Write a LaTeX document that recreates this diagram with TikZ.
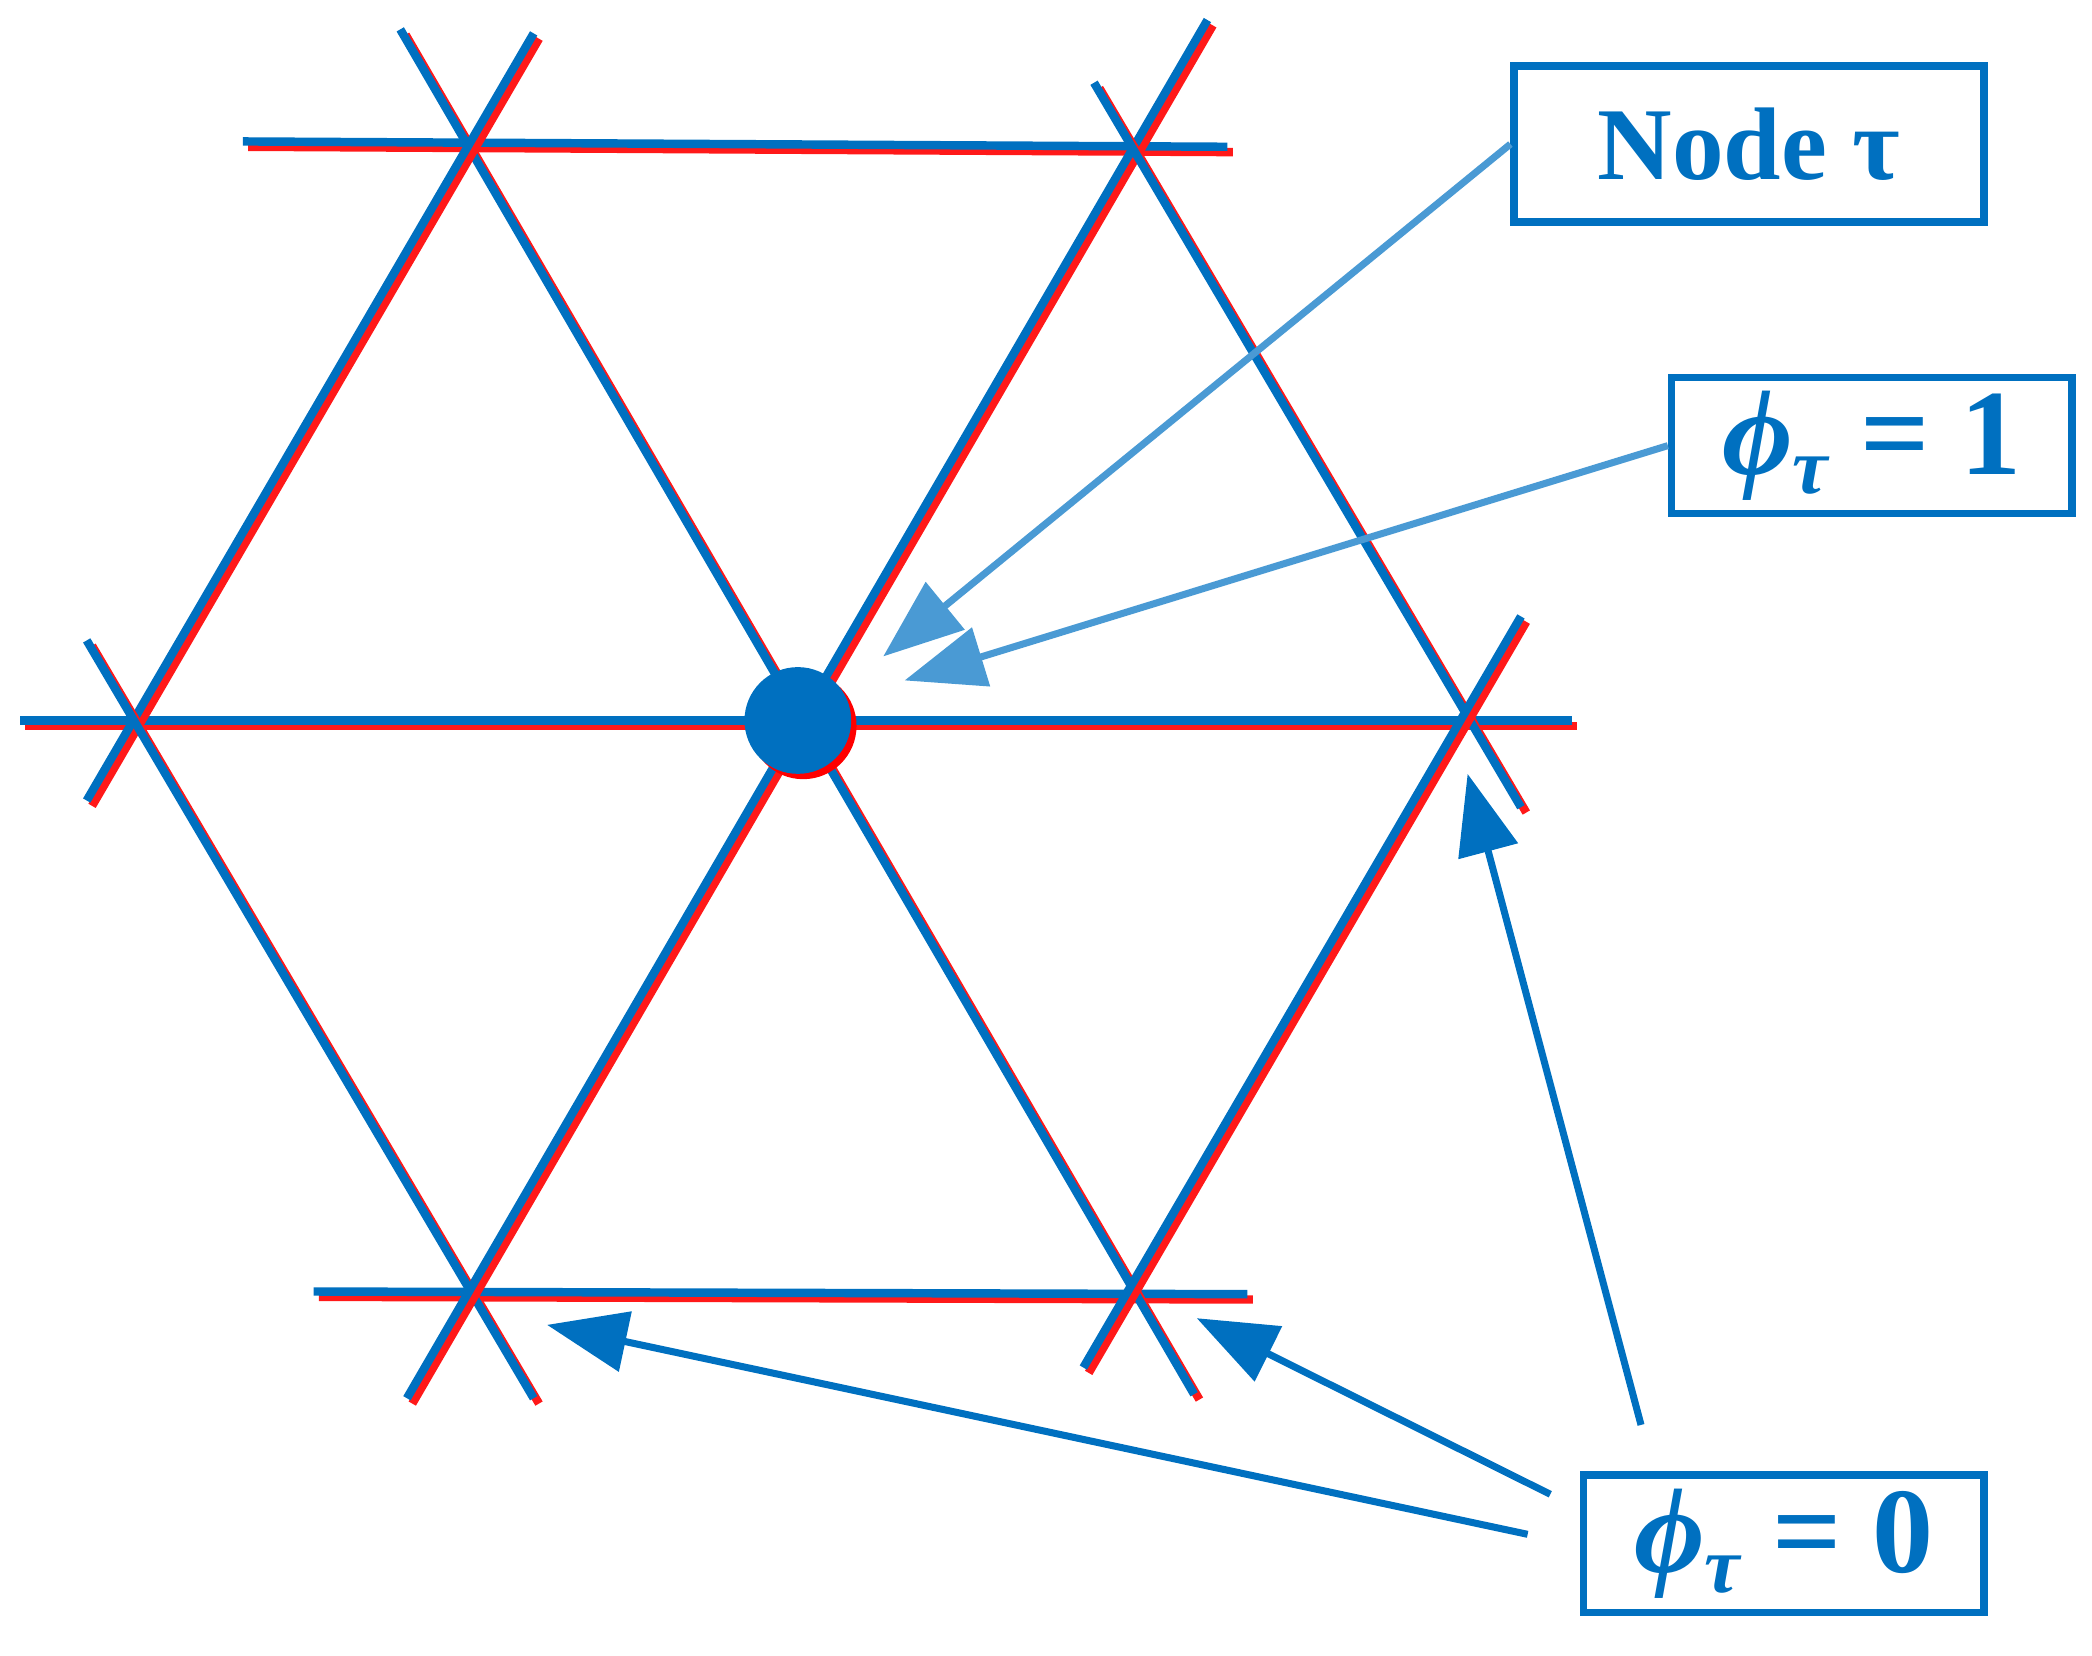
\documentclass[tikz,border=0pt]{standalone}
\usepackage{fontspec}
\setmainfont{Liberation Serif}
\usetikzlibrary{arrows.meta}
\definecolor{db}{RGB}{0,112,192}
\definecolor{lb}{RGB}{74,154,212}
\begin{document}
\begin{tikzpicture}[x=0.01cm,y=-0.01cm,
  bl/.style={draw=db,line width=1.8pt},
  rd/.style={draw=red!90!white,line width=1.8pt},
  box/.style={draw=db,line width=1.6pt,text=db,font=\fontsize{22}{26}\selectfont\bfseries,inner sep=0pt},
  arl/.style={draw=lb,line width=1.5pt,-{Triangle[length=0.6cm,width=0.45cm]}},
  ard/.style={draw=db,line width=1.5pt,-{Triangle[length=0.6cm,width=0.45cm]}}]
\useasboundingbox (0,0) rectangle (1568,1241);
\foreach \a/\b in {{182,106}/{920,110},{15,540}/{1178,540},{235,968}/{935,970},
  {300,22}/{895,1045},{400,25}/{65,600},{65,480}/{400,1048},{305,1048}/{905,15},
  {820,62}/{1140,605},{1140,462}/{812,1025}}{
  \draw[rd] ([shift={(4,4)}]\a) -- ([shift={(4,4)}]\b);
  \draw[bl] (\a) -- (\b);
}
\fill[red] (602,544) circle (40);
\fill[db] (598,540) circle (40);
\node[box,minimum width=3.52cm,minimum height=1.17cm] (n) at (1311,108) {Node τ};
\node[box,minimum width=3cm,minimum height=1.02cm] (p1) at (1403,334) {\fontsize{26}{30}\selectfont\textit{ϕ}\raisebox{-0.35ex}{\fontsize{17}{20}\selectfont\textit{τ}} = 1};
\node[box,minimum width=3cm,minimum height=1.03cm] (p0) at (1337,1157) {\fontsize{26}{30}\selectfont\textit{ϕ}\raisebox{-0.35ex}{\fontsize{17}{20}\selectfont\textit{τ}} = 0};
\coordinate (t1) at (662,492);
\coordinate (t2) at (678,510);
\coordinate (t3) at (410,993);
\coordinate (t4) at (897,988);
\coordinate (t5) at (1100,580);
\coordinate (s1) at (1145,1150);
\coordinate (s2) at (1162,1120);
\coordinate (s3) at (1230,1068);
\draw[arl] (n.west) -- (t1);
\draw[arl] (p1.west) -- (t2);
\draw[ard] (s1) -- (t3);
\draw[ard] (s2) -- (t4);
\draw[ard] (s3) -- (t5);
\end{tikzpicture}
\end{document}
